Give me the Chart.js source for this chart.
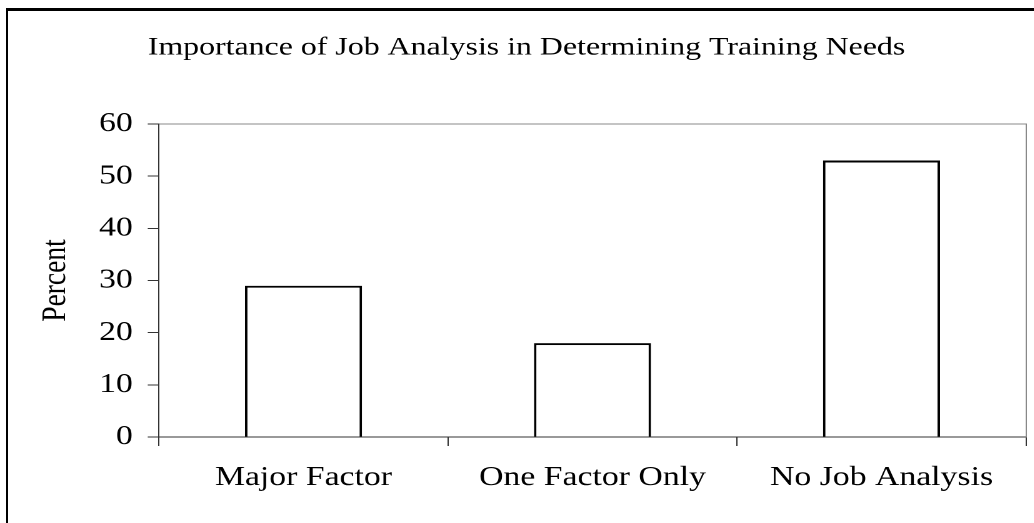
<!DOCTYPE html>
<html>
<head>
<meta charset="utf-8">
<script src="https://cdn.jsdelivr.net/npm/chart.js@4.4.1/dist/chart.umd.min.js"></script>
<style>
  html, body { margin: 0; padding: 0; background: #fff; }
  #wrap { position: relative; width: 1034px; height: 523px; overflow: hidden; background: #fff; }
  #c { position: absolute; left: 0; top: 0; transform: scaleX(1.25); transform-origin: 0 0; }
  #frame { position: absolute; left: 6px; top: 8px; right: 0; bottom: 0;
           border-top: 3px solid #000; border-left: 2px solid #000; pointer-events: none; }
</style>
</head>
<body>
<div id="wrap">
  <canvas id="c" width="827" height="523" style="width:827px;height:523px"></canvas>
  <div id="frame"></div>
</div>
<script>
const chartTitle = 'Importance of Job Analysis in Determining Training Needs';
const categories = ['Major Factor', 'One Factor Only', 'No Job Analysis'];
const percentValues = [29, 18, 53];
const yAxisTitle = 'Percent';
const yMin = 0, yMax = 60, yStep = 10;

const FONT = '"Liberation Serif", "Times New Roman", serif';

new Chart(document.getElementById('c'), {
  type: 'bar',
  data: {
    labels: categories,
    datasets: [{
      data: percentValues,
      backgroundColor: '#ffffff',
      borderColor: '#000000',
      borderWidth: 2,
      categoryPercentage: 1.0,
      barPercentage: 0.405
    }]
  },
  options: {
    responsive: false,
    devicePixelRatio: 2,
    animation: false,
    layout: { padding: { left: 21.6, right: 6.2, top: 0, bottom: 0 } },
    plugins: {
      legend: { display: false },
      tooltip: { enabled: false },
      title: {
        display: true,
        text: chartTitle,
        color: '#000',
        font: { family: FONT, size: 25.5, weight: 'normal' },
        padding: { top: 32.5, bottom: 60.9 }
      }
    },
    scales: {
      x: {
        position: 'bottom',
        grid: { display: true, drawOnChartArea: false, drawTicks: true, tickLength: 9, color: '#333', offset: true },
        border: { display: true, color: '#333', width: 1 },
        ticks: { color: '#000', font: { family: FONT, size: 27 }, padding: 15.5, maxRotation: 0 },
        afterFit: s => { s.height = 86; }
      },
      x2: {
        position: 'top',
        type: 'category',
        grid: { display: false, drawTicks: false },
        border: { display: true, color: '#888', width: 1 },
        ticks: { display: false },
        afterFit: s => { s.height = 0; }
      },
      y: {
        position: 'left',
        min: yMin, max: yMax,
        grid: { display: true, drawOnChartArea: false, drawTicks: true, tickLength: 9, color: '#333' },
        border: { display: true, color: '#333', width: 1 },
        ticks: { stepSize: yStep, color: '#000', font: { family: FONT, size: 27 }, padding: 12 },
        title: { display: true, text: yAxisTitle, color: '#000', font: { family: FONT, size: 27.5 }, padding: { top: 6.9, bottom: 0 } },
        afterFit: s => { s.width = 105.6; }
      },
      y2: {
        position: 'right',
        min: yMin, max: yMax,
        grid: { display: false, drawTicks: false },
        border: { display: true, color: '#888', width: 1 },
        ticks: { display: false },
        afterFit: s => { s.width = 0; }
      }
    }
  }
});
</script>
</body>
</html>
